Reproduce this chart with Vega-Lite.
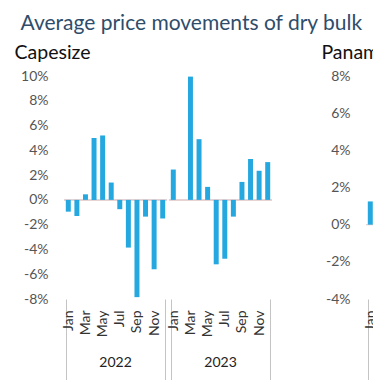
{
  "$schema": "https://vega.github.io/schema/vega-lite/v6.json",
  "padding": {"left": 14, "top": 12, "right": 0, "bottom": 0},
  "title": {"text": "Average price movements of dry bulk", "anchor": "start", "fontSize": 21, "fontWeight": "normal", "color": "#2e4d6b", "font": "Lato", "dx": 6, "offset": 9},
  "datasets": {
    "cape": [
      {"year": "2022", "month": 1, "value": -0.95},
      {"year": "2022", "month": 2, "value": -1.3},
      {"year": "2022", "month": 3, "value": 0.45},
      {"year": "2022", "month": 4, "value": 5.0},
      {"year": "2022", "month": 5, "value": 5.2},
      {"year": "2022", "month": 6, "value": 1.4},
      {"year": "2022", "month": 7, "value": -0.75},
      {"year": "2022", "month": 8, "value": -3.85},
      {"year": "2022", "month": 9, "value": -7.85},
      {"year": "2022", "month": 10, "value": -1.35},
      {"year": "2022", "month": 11, "value": -5.6},
      {"year": "2022", "month": 12, "value": -1.5},
      {"year": "2023", "month": 1, "value": 2.45},
      {"year": "2023", "month": 2, "value": 0},
      {"year": "2023", "month": 3, "value": 9.95},
      {"year": "2023", "month": 4, "value": 4.9},
      {"year": "2023", "month": 5, "value": 1.05},
      {"year": "2023", "month": 6, "value": -5.2},
      {"year": "2023", "month": 7, "value": -4.75},
      {"year": "2023", "month": 8, "value": -1.35},
      {"year": "2023", "month": 9, "value": 1.45},
      {"year": "2023", "month": 10, "value": 3.3},
      {"year": "2023", "month": 11, "value": 2.35},
      {"year": "2023", "month": 12, "value": 3.05}
    ],
    "pana": [
      {"year": "2022", "month": 1, "value": 1.25},
      {"year": "2022", "month": 2, "value": 1.6}
    ]
  },
  "hconcat": [
    {
      "data": {"name": "cape"},
      "title": {"text": "Capesize", "anchor": "start", "fontSize": 19.5, "fontWeight": "normal", "color": "#111111", "font": "Lato", "dx": -6, "offset": 6},
      "spacing": 0,
      "facet": {"column": {"field": "year", "type": "ordinal", "title": null, "header": {"labelOrient": "bottom", "labelFontSize": 14, "labelFont": "Lato", "labelColor": "#222222", "labelPadding": -30}}},
      "spec": {
        "width": 103,
        "height": 223,
        "layer": [
          {"mark": {"type": "rule", "color": "#e6d2d2", "strokeWidth": 1}, "encoding": {"y": {"datum": 0, "type": "quantitative"}}},
          {
            "mark": {"type": "bar", "color": "#25a8df"},
            "encoding": {
              "x": {"field": "month", "type": "ordinal", "scale": {"domain": [1,2,3,4,5,6,7,8,9,10,11,12], "paddingInner": 0.42, "paddingOuter": 0.21},
                "axis": {"title": null, "labelAngle": -90, "labelAlign": "right", "labelBaseline": "middle", "labelExpr": "datum.value % 2 == 1 ? ['Jan','Feb','Mar','Apr','May','Jun','Jul','Aug','Sep','Oct','Nov','Dec'][datum.value-1] : ''", "domain": false, "tickBand": "extent", "tickSize": 86, "tickColor": "#c4c4c4", "tickOpacity": {"condition": {"test": "datum.extra || datum.value == 12", "value": 1}, "value": 0}, "labelPadding": -75, "labelFontSize": 14, "labelColor": "#333333", "labelFont": "Lato", "labelOverlap": false}},
              "y": {"field": "value", "type": "quantitative", "scale": {"domain": [-8, 10], "nice": false, "zero": false},
                "axis": {"title": null, "values": [-8,-6,-4,-2,0,2,4,6,8,10], "tickCount": 12, "labelExpr": "datum.value + '%'", "domain": false, "ticks": false, "grid": false, "labelPadding": 15, "labelFontSize": 14, "labelColor": "#555555", "labelFont": "Lato", "labelOverlap": false}}
            }
          }
        ]
      }
    },
    {
      "data": {"name": "pana"},
      "title": {"text": "Panamax", "anchor": "start", "fontSize": 19.5, "fontWeight": "normal", "color": "#111111", "font": "Lato", "dx": -4, "offset": 6},
      "spacing": 0,
      "facet": {"column": {"field": "year", "type": "ordinal", "title": null, "header": {"labelOrient": "bottom", "labelFontSize": 14, "labelFont": "Lato", "labelColor": "#222222", "labelPadding": -30}}},
      "spec": {
        "width": 103,
        "height": 223,
        "layer": [
          {"mark": {"type": "rule", "color": "#e6d2d2", "strokeWidth": 1}, "encoding": {"y": {"datum": 0, "type": "quantitative"}}},
          {
            "mark": {"type": "bar", "color": "#25a8df"},
            "encoding": {
              "x": {"field": "month", "type": "ordinal", "scale": {"domain": [1,2,3,4,5,6,7,8,9,10,11,12], "paddingInner": 0.42, "paddingOuter": 0.21},
                "axis": {"title": null, "labelAngle": -90, "labelAlign": "right", "labelBaseline": "middle", "labelExpr": "datum.value % 2 == 1 ? ['Jan','Feb','Mar','Apr','May','Jun','Jul','Aug','Sep','Oct','Nov','Dec'][datum.value-1] : ''", "domain": false, "tickBand": "extent", "tickSize": 86, "tickColor": "#c4c4c4", "tickOpacity": {"condition": {"test": "datum.extra || datum.value == 12", "value": 1}, "value": 0}, "labelPadding": -75, "labelFontSize": 14, "labelColor": "#333333", "labelFont": "Lato", "labelOverlap": false}},
              "y": {"field": "value", "type": "quantitative", "scale": {"domain": [-4, 8], "nice": false, "zero": false},
                "axis": {"title": null, "values": [-4,-2,0,2,4,6,8], "tickCount": 12, "labelExpr": "datum.value + '%'", "domain": false, "ticks": false, "grid": false, "labelPadding": 15, "labelFontSize": 14, "labelColor": "#555555", "labelFont": "Lato", "labelOverlap": false}}
            }
          }
        ]
      }
    }
  ],
  "spacing": 46,
  "config": {"view": {"stroke": null}, "font": "Lato"}
}
